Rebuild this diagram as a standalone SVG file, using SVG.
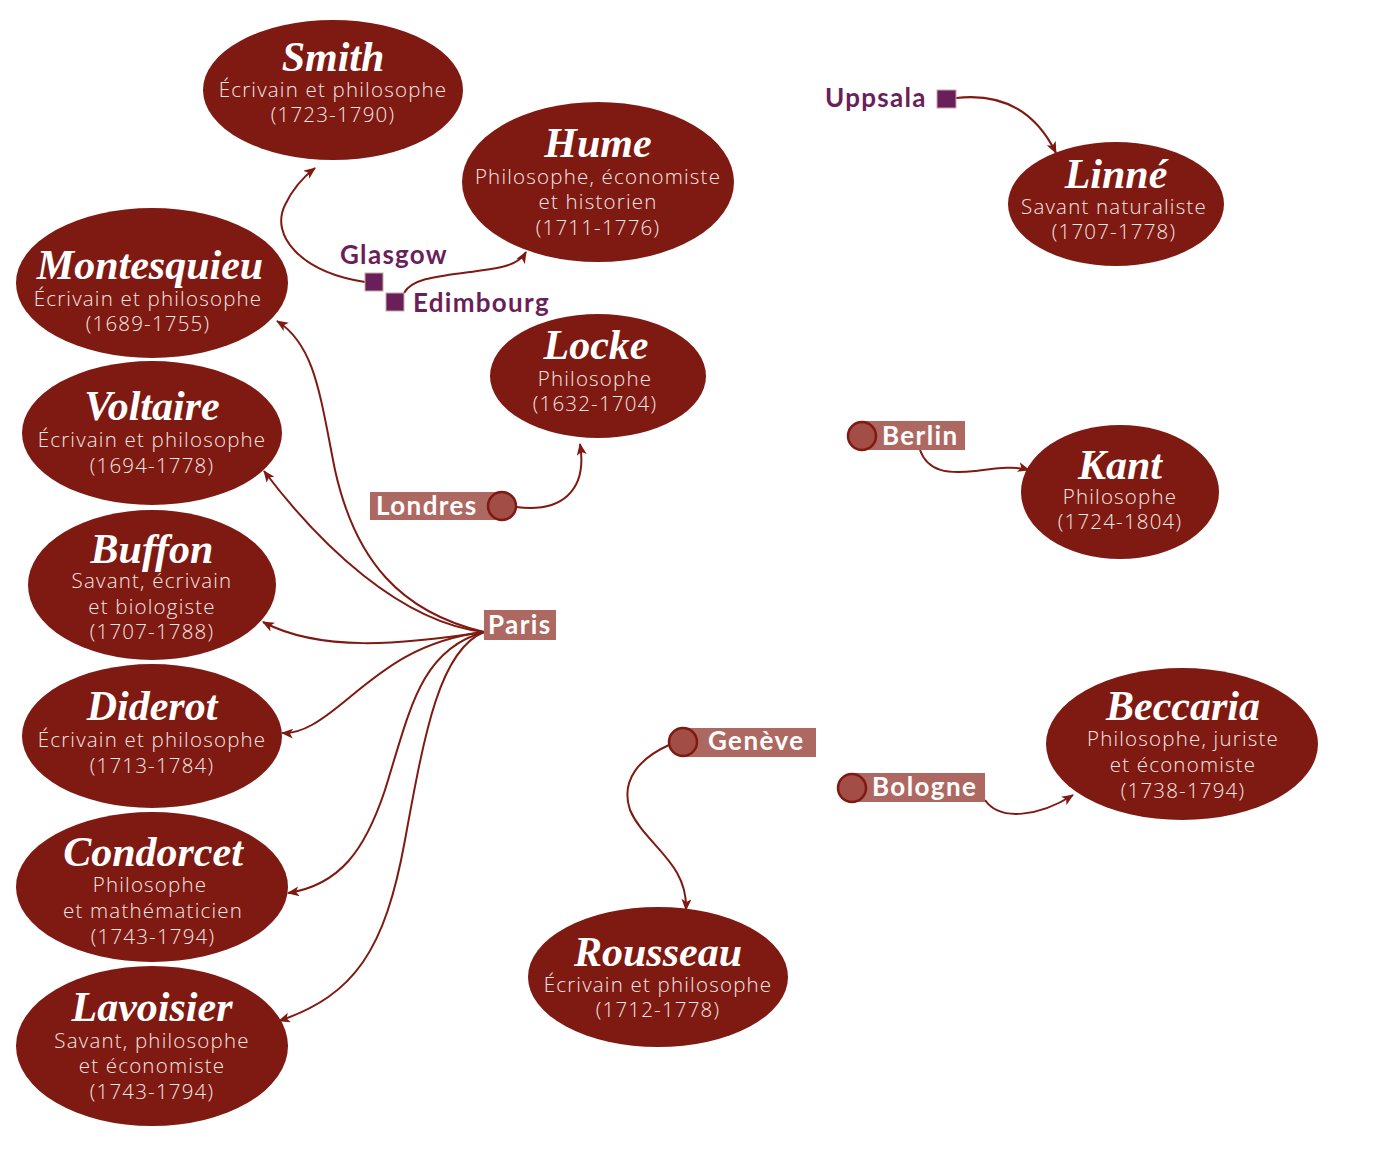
<svg xmlns="http://www.w3.org/2000/svg" width="1376" height="1150" viewBox="0 0 1376 1150">
<style>
.node ellipse{fill:#7f1a12}
.name{font-family:"Liberation Serif",serif;font-weight:bold;font-style:italic;font-size:42px;fill:#ffffff;text-anchor:middle}
.sub{font-family:"Open Sans","Lato",sans-serif;font-weight:300;font-size:20.5px;letter-spacing:1.2px;fill:#f3e6e4;text-anchor:middle}
.plab{font-family:"Lato","Open Sans",sans-serif;font-weight:bold;font-size:26px;letter-spacing:1.3px;fill:#6b1f5a}
.clab{font-family:"Lato","Open Sans",sans-serif;font-weight:bold;font-size:26px;letter-spacing:1.4px;fill:#ffffff}
.box{fill:#ae6862}
.dot{fill:#a24d46;stroke:#7f1a12;stroke-width:2.5}
.sq{fill:#6b1f5a;stroke:#c8a9a4;stroke-width:1}
.conn path{fill:none;stroke:#7f1a12;stroke-width:2}
</style>
<defs>
<marker id="arr" viewBox="0 0 12 10" refX="11" refY="5" markerWidth="12" markerHeight="10" markerUnits="userSpaceOnUse" orient="auto">
<path d="M0,0 L12,5 L0,10 L3,5 z" fill="#7f1a12"/>
</marker>
</defs>
<rect width="1376" height="1150" fill="#ffffff"/>

<g class="conn">
<path marker-end="url(#arr)" d="M365,282 C300,272 270,235 285,205 C292,190 302,178 315,168"/>
<path marker-end="url(#arr)" d="M404,293 C412,278 440,276 470,272 C500,268 518,266 526,252"/>
<path marker-end="url(#arr)" d="M956,98 C1000,93 1035,110 1056,153"/>
<path marker-end="url(#arr)" d="M516,507 C560,513 588,492 580,444"/>
<path marker-end="url(#arr)" d="M920,450 C928,472 948,474 975,471 C1000,468 1015,466 1029,470"/>
<path marker-end="url(#arr)" d="M669,745 C640,758 620,780 630,810 C645,845 688,862 686,910"/>
<path marker-end="url(#arr)" d="M985,800 C1000,822 1040,816 1073,795"/>
<path marker-end="url(#arr)" d="M484,632 C400,612 355,560 335,470 C320,395 315,345 277,321"/>
<path marker-end="url(#arr)" d="M484,632 C400,622 320,545 264,471"/>
<path marker-end="url(#arr)" d="M484,632 C400,645 320,652 263,622"/>
<path marker-end="url(#arr)" d="M484,632 C420,640 385,668 350,697 C320,722 302,734 282,733"/>
<path marker-end="url(#arr)" d="M484,632 C420,650 410,710 385,790 C365,850 340,885 288,893"/>
<path marker-end="url(#arr)" d="M484,632 C440,650 425,730 405,840 C385,950 355,995 279,1021"/>
</g>

<g id="smith" class="node"><ellipse cx="333" cy="90" rx="130" ry="70"/>
<text class="name" x="333" y="71">Smith</text>
<text class="sub" x="333" y="97">Écrivain et philosophe</text>
<text class="sub" x="333" y="122">(1723-1790)</text></g>

<g id="hume" class="node"><ellipse cx="598" cy="182" rx="136" ry="80"/>
<text class="name" x="598" y="157">Hume</text>
<text class="sub" x="598" y="184">Philosophe, économiste</text>
<text class="sub" x="598" y="209">et historien</text>
<text class="sub" x="598" y="235">(1711-1776)</text></g>

<g id="linne" class="node"><ellipse cx="1116" cy="204" rx="108" ry="62"/>
<text class="name" x="1116" y="188">Linné</text>
<text class="sub" x="1114" y="214">Savant naturaliste</text>
<text class="sub" x="1114" y="239">(1707-1778)</text></g>

<g id="montesquieu" class="node"><ellipse cx="152" cy="283" rx="136" ry="75"/>
<text class="name" x="150" y="279">Montesquieu</text>
<text class="sub" x="148" y="306">Écrivain et philosophe</text>
<text class="sub" x="148" y="331">(1689-1755)</text></g>

<g id="locke" class="node"><ellipse cx="598" cy="376" rx="108" ry="62"/>
<text class="name" x="596" y="359">Locke</text>
<text class="sub" x="595" y="386">Philosophe</text>
<text class="sub" x="595" y="411">(1632-1704)</text></g>

<g id="voltaire" class="node"><ellipse cx="152" cy="433" rx="130" ry="72"/>
<text class="name" x="152" y="420">Voltaire</text>
<text class="sub" x="152" y="447">Écrivain et philosophe</text>
<text class="sub" x="152" y="473">(1694-1778)</text></g>

<g id="kant" class="node"><ellipse cx="1120" cy="492" rx="99" ry="67"/>
<text class="name" x="1120" y="479">Kant</text>
<text class="sub" x="1120" y="504">Philosophe</text>
<text class="sub" x="1120" y="529">(1724-1804)</text></g>

<g id="buffon" class="node"><ellipse cx="152" cy="585" rx="124" ry="75"/>
<text class="name" x="152" y="563">Buffon</text>
<text class="sub" x="152" y="588">Savant, écrivain</text>
<text class="sub" x="152" y="614">et biologiste</text>
<text class="sub" x="152" y="639">(1707-1788)</text></g>

<g id="diderot" class="node"><ellipse cx="152" cy="736" rx="130" ry="72"/>
<text class="name" x="152" y="720">Diderot</text>
<text class="sub" x="152" y="747">Écrivain et philosophe</text>
<text class="sub" x="152" y="773">(1713-1784)</text></g>

<g id="beccaria" class="node"><ellipse cx="1182" cy="744" rx="136" ry="76"/>
<text class="name" x="1183" y="720">Beccaria</text>
<text class="sub" x="1183" y="746">Philosophe, juriste</text>
<text class="sub" x="1183" y="772">et économiste</text>
<text class="sub" x="1183" y="798">(1738-1794)</text></g>

<g id="condorcet" class="node"><ellipse cx="152" cy="887" rx="136" ry="75"/>
<text class="name" x="153" y="866">Condorcet</text>
<text class="sub" x="150" y="892">Philosophe</text>
<text class="sub" x="153" y="918">et mathématicien</text>
<text class="sub" x="153" y="944">(1743-1794)</text></g>

<g id="lavoisier" class="node"><ellipse cx="152" cy="1046" rx="136" ry="80"/>
<text class="name" x="152" y="1021">Lavoisier</text>
<text class="sub" x="152" y="1048">Savant, philosophe</text>
<text class="sub" x="152" y="1073">et économiste</text>
<text class="sub" x="152" y="1099">(1743-1794)</text></g>

<g id="rousseau" class="node"><ellipse cx="658" cy="977" rx="130" ry="70"/>
<text class="name" x="658" y="966">Rousseau</text>
<text class="sub" x="658" y="992">Écrivain et philosophe</text>
<text class="sub" x="658" y="1017">(1712-1778)</text></g>

<g id="glasgow"><rect class="sq" x="365" y="273" width="18" height="18"/>
<text class="plab" x="340" y="264">Glasgow</text></g>

<g id="edimbourg"><rect class="sq" x="386" y="293" width="18" height="18"/>
<text class="plab" x="413" y="312">Edimbourg</text></g>

<g id="uppsala"><rect class="sq" x="937" y="90" width="19" height="18"/>
<text class="plab" x="825" y="107">Uppsala</text></g>

<g id="londres"><rect class="box" x="370" y="492" width="132" height="28"/>
<circle class="dot" cx="502" cy="506" r="14"/>
<text class="clab" x="376" y="515">Londres</text></g>

<g id="paris"><rect class="box" x="484" y="610" width="72" height="30"/>
<text class="clab" x="488" y="634">Paris</text></g>

<g id="berlin"><rect class="box" x="862" y="421" width="103" height="29"/>
<circle class="dot" cx="862" cy="436" r="14"/>
<text class="clab" x="882" y="445">Berlin</text></g>

<g id="geneve"><rect class="box" x="683" y="728" width="133" height="29"/>
<circle class="dot" cx="683" cy="742" r="14"/>
<text class="clab" x="708" y="750">Genève</text></g>

<g id="bologne"><rect class="box" x="852" y="773" width="133" height="29"/>
<circle class="dot" cx="852" cy="788" r="14"/>
<text class="clab" x="872" y="796">Bologne</text></g>
</svg>
